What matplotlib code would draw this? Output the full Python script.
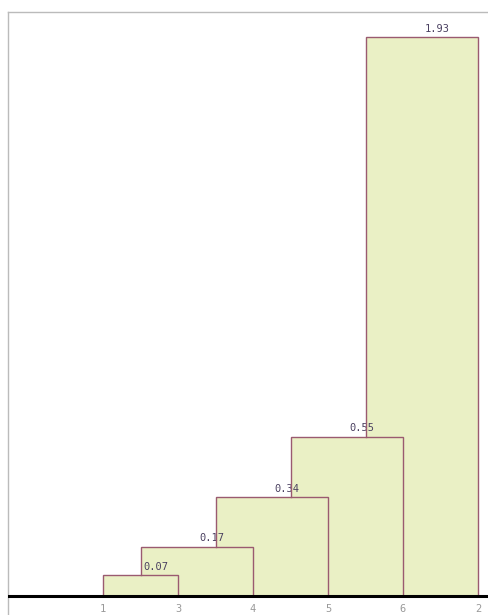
import matplotlib
matplotlib.use("Agg")
import matplotlib.pyplot as plt
from matplotlib.patches import Rectangle

# Data
leaf_labels = ['1', '3', '4', '5', '6', '2']
merge_heights = [0.07, 0.17, 0.34, 0.55, 1.93]

W, H = 489, 615
fig = plt.figure(figsize=(W / 100, H / 100), dpi=100)
ax = fig.add_axes([8.3 / W, 0.0, 1.05, 1 - 12.3 / H])

pos = list(range(1, len(leaf_labels) + 1))
fill = '#eaf0c5'
edge = '#9a5a70'
txt = '#4a4060'

prev_h = 0.0
for i, h in enumerate(merge_heights):
    left = pos[0] if i == 0 else pos[i] - 0.5
    right = pos[i + 1]
    ax.add_patch(Rectangle((left, 0), right - left, h, facecolor=fill,
                           edgecolor='none', linewidth=0, zorder=1))
    # link lines
    ax.plot([left, left, right, right], [prev_h, h, h, 0], color=edge,
            linewidth=1.0, zorder=3, solid_joinstyle='miter')
    cx = (left + right) / 2
    ax.annotate(f'{h:.2f}', xy=(cx, h), xytext=(10.8, 2.5),
                textcoords='offset points', ha='center', va='bottom',
                fontsize=7.5, color=txt, family='DejaVu Sans Mono', zorder=2)
    prev_h = h

for p, lab in zip(pos, leaf_labels):
    ax.annotate(lab, xy=(p, 0), xytext=(0, -6), textcoords='offset points',
                ha='center', va='top', fontsize=7.5, color='#999999',
                family='DejaVu Sans Mono')

ax.axhline(0, color='black', linewidth=2.2, zorder=4)

# Axes scaling: leaf 1 at px 103, spacing 75 px
px_per_x = 75.0
x0 = 1 - (103 - 8.3) / px_per_x
x1 = x0 + (W * 1.05) / px_per_x
ax.set_xlim(x0, x1)
px_per_y = 289.3
base = 595.7
ax.set_ylim(-(H - base) / px_per_y, (base - 12.3) / px_per_y)

for s in ['right', 'bottom']:
    ax.spines[s].set_visible(False)
for s in ['left', 'top']:
    ax.spines[s].set_color('#bbbbbb')
    ax.spines[s].set_linewidth(1.0)
ax.set_xticks([])
ax.set_yticks([])
ax.patch.set_alpha(0)

fig.savefig('out.png', dpi=100)
